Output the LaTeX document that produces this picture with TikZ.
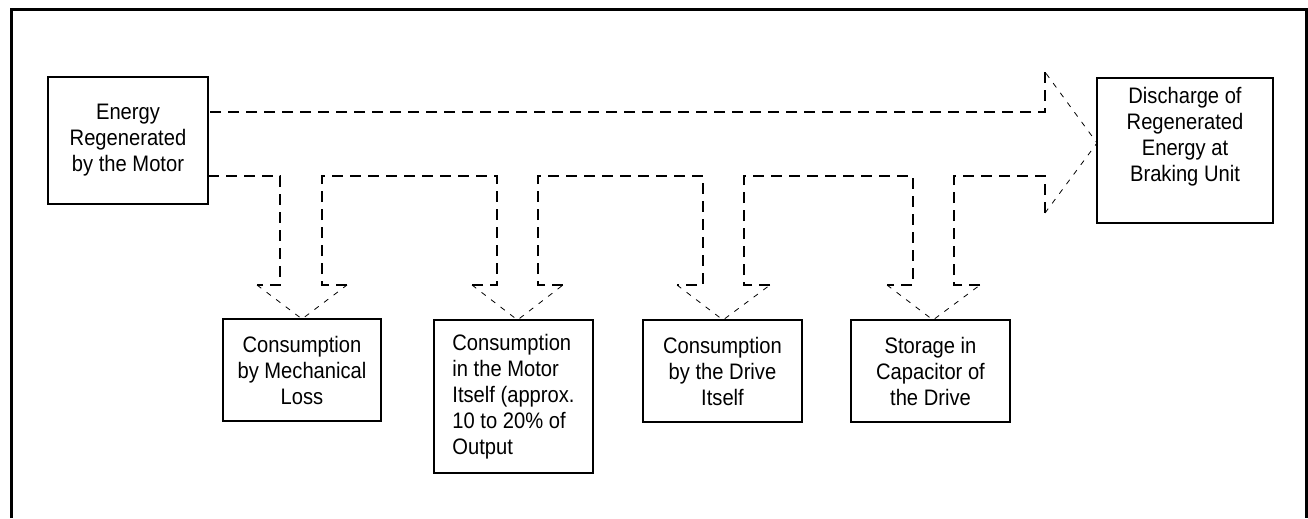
\documentclass[tikz,border=0pt]{standalone}
\usepackage{fontspec}
\setmainfont[FakeStretch=0.9]{Liberation Sans}
\begin{document}
\begin{tikzpicture}[x=0.75pt,y=-0.75pt,
  box/.style={draw,line width=1.5pt,inner sep=0pt,outer sep=0pt,align=center,
    font=\fontsize{16.8}{19.5}\selectfont},
  shaft/.style={line width=1.5pt,dash pattern=on 8.25pt off 5.25pt},
  head/.style={line width=0.6pt,dash pattern=on 4pt off 5pt},
  frame/.style={line width=2.25pt}]
\useasboundingbox (0,0) rectangle (1308,518);
\draw[frame] (11.5,518) -- (11.5,9.5) -- (1306,9.5) -- (1306,518);

\node[box,minimum width=120pt,minimum height=95.25pt] (src) at (128,140.5)
  {Energy\\Regenerated\\by the Motor};
\node[box,minimum width=132pt,minimum height=108.75pt] (dis) at (1185,150.5)
  {Discharge of\\Regenerated\\Energy at\\Braking Unit\\[4pt]};
\node[box,minimum width=118.5pt,minimum height=76.5pt] (mech) at (302,370)
  {Consumption\\by Mechanical\\Loss};
\node[box,align=left,minimum width=119.25pt,minimum height=114.75pt] (motor) at (513.5,396.5)
  {Consumption\\in the Motor\\Itself (approx.\\10 to 20\% of\\Output};
\node[box,minimum width=119.25pt,minimum height=76.5pt] (drive) at (722.5,371)
  {Consumption\\by the Drive\\Itself};
\node[box,minimum width=119.25pt,minimum height=76.5pt] (stor) at (930.5,371)
  {Storage in\\Capacitor of\\the Drive};

% block arrow outline
\draw[shaft] (src.east |- 0,176) -- (280,176) -- (280,285) -- (257,285);
\draw[head] (257,285) -- (mech.north) -- (347,285);
\draw[shaft] (347,285) -- (322,285) -- (322,176) -- (497,176) -- (497,285) -- (472,285);
\draw[head] (472,285) -- (motor.north -| 517.5,0) -- (563,285);
\draw[shaft] (563,285) -- (538,285) -- (538,176) -- (703,176) -- (703,285) -- (677,285);
\draw[head] (677,285) -- (drive.north -| 723,0) -- (770,285);
\draw[shaft] (770,285) -- (744,285) -- (744,176) -- (913,176) -- (913,285) -- (887,285);
\draw[head] (887,285) -- (stor.north -| 933,0) -- (980,285);
\draw[shaft] (980,285) -- (954,285) -- (954,176) -- (1045,176) -- (1045,213);
\draw[head] (1045,213) -- (dis.west |- 0,143) -- (1045,72);
\draw[shaft] (1045,72) -- (1045,112) -- (src.east |- 0,112);
\end{tikzpicture}
\end{document}
